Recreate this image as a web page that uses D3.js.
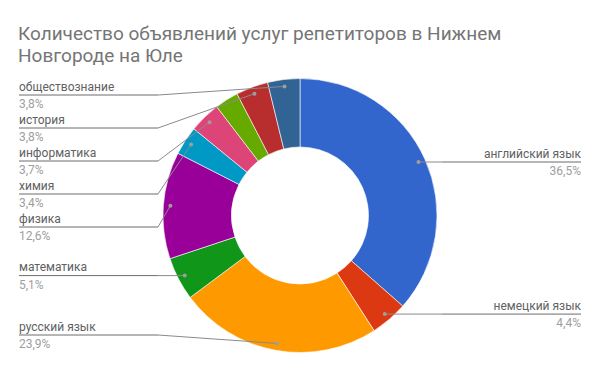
<!DOCTYPE html>
<html>
<head>
<meta charset="utf-8">
<script src="https://cdn.jsdelivr.net/npm/d3@7"></script>
<style>
  body { margin: 0; background: #fff; }
  svg { display: block; font-family: Roboto, "Noto Sans", sans-serif; }
</style>
</head>
<body>
<svg width="600" height="371"></svg>
<script>
// Subjects, share of ads in percent (clockwise from 12 o'clock)
const subjects = ["английский язык", "немецкий язык", "русский язык", "математика", "физика",
                  "химия", "информатика", "прочее", "история", "обществознание"];
const shares = [36.5, 4.4, 23.9, 5.1, 12.6, 3.4, 3.7, 2.8, 3.8, 3.8];
const shareLabels = ["36,5%", "4,4%", "23,9%", "5,1%", "12,6%", "3,4%", "3,7%", "", "3,8%", "3,8%"];
const showLabel = [true, true, true, true, true, true, true, false, true, true];
const colors = ["#3366cc", "#dc3912", "#ff9900", "#109618", "#990099",
                "#0099c6", "#dd4477", "#66aa00", "#b82e2e", "#316395"];

const svg = d3.select("svg");
const cx = 300, cy = 215.5;
const outerR = 137, innerR = 68.5, dotR = 130;

// Title
const title = svg.append("text")
    .attr("x", 18)
    .attr("fill", "#757575")
    .style("font-size", "19px");
title.append("tspan").attr("x", 18).attr("y", 39.5)
    .text("Количество объявлений услуг репетиторов в Нижнем");
title.append("tspan").attr("x", 18).attr("y", 62)
    .text("Новгороде на Юле");

const data = subjects.map((name, i) => ({
    name, value: shares[i], pct: shareLabels[i], show: showLabel[i], color: colors[i]
}));

const pie = d3.pie().value(d => d.value).sort(null);
const arcs = pie(data);
const arc = d3.arc().innerRadius(innerR).outerRadius(outerR);

const g = svg.append("g").attr("transform", `translate(${cx},${cy})`);
g.selectAll("path")
    .data(arcs)
    .join("path")
    .attr("d", arc)
    .attr("fill", d => d.data.color)
    .attr("stroke", "#fff")
    .attr("stroke-width", 0.6);

// Label anchors: dot inside each slice, at mid-angle
const labels = arcs.filter(d => d.data.show).map(d => {
    const a = (d.startAngle + d.endAngle) / 2;
    const x = cx + dotR * Math.sin(a);
    const y = cy - dotR * Math.cos(a);
    return {d, x, y, side: a < Math.PI ? "right" : "left", ly: y};
});

// Spread labels vertically on each side
const yMin = 95, yMax = 335, gap = 33;
["left", "right"].forEach(side => {
    const list = labels.filter(l => l.side === side).sort((a, b) => a.y - b.y);
    list.forEach(l => { l.ly = Math.max(yMin, Math.min(yMax, l.y)); });
    for (let i = 1; i < list.length; i++)
        if (list[i].ly < list[i - 1].ly + gap) list[i].ly = list[i - 1].ly + gap;
    for (let i = list.length - 2; i >= 0; i--)
        if (list[i].ly > list[i + 1].ly - gap) list[i].ly = list[i + 1].ly - gap;
});

const leftX = 19, leftElbow = 158, rightX = 581, rightElbow = 442;

const lab = svg.append("g");
labels.forEach(l => {
    const left = l.side === "left";
    const edge = left ? leftX : rightX;
    const elbow = left ? leftElbow : rightElbow;
    // horizontal rule under the label
    lab.append("line")
        .attr("x1", edge).attr("x2", elbow)
        .attr("y1", l.ly).attr("y2", l.ly)
        .attr("stroke", "#6d6d6d").attr("stroke-width", 1);
    // leader line to the slice
    lab.append("line")
        .attr("x1", elbow).attr("y1", l.ly)
        .attr("x2", l.x).attr("y2", l.y)
        .attr("stroke", "#8a8a8a").attr("stroke-width", 1);
    lab.append("circle")
        .attr("cx", l.x).attr("cy", l.y).attr("r", 2)
        .attr("fill", "#9e9e9e");
    lab.append("text")
        .attr("x", edge).attr("y", l.ly - 4.5)
        .attr("text-anchor", left ? "start" : "end")
        .attr("fill", "#616161")
        .style("font-size", "12px")
        .text(l.d.data.name);
    lab.append("text")
        .attr("x", edge).attr("y", l.ly + 13)
        .attr("text-anchor", left ? "start" : "end")
        .attr("fill", "#9e9e9e")
        .style("font-size", "12px")
        .text(l.d.data.pct);
});
</script>
</body>
</html>
